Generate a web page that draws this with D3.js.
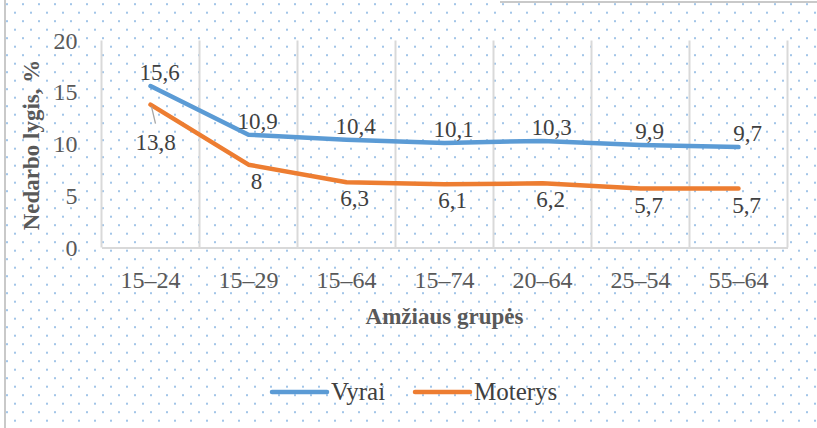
<!DOCTYPE html>
<html>
<head>
<meta charset="utf-8">
<script src="https://cdn.jsdelivr.net/npm/d3@7"></script>
<style>
  body { margin: 0; background: #fff; }
  svg { display: block; font-family: "Liberation Serif", "Times New Roman", serif; }
</style>
</head>
<body>
<svg width="817" height="428"></svg>
<script>
// data
var groups = ["15–24", "15–29", "15–64", "15–74", "20–64", "25–54", "55–64"];
var vyrai = [15.6, 10.9, 10.4, 10.1, 10.3, 9.9, 9.7];
var moterys = [13.8, 8, 6.3, 6.1, 6.2, 5.7, 5.7];
var yTicks = [0, 5, 10, 15, 20];
var seriesNames = ["Vyrai", "Moterys"];
var colors = ["#5b9bd5", "#ed7d31"];

var serif = "'Liberation Serif', 'Times New Roman', serif";
var svg = d3.select("svg");

// dotted background
var defs = svg.append("defs");
var pat = defs.append("pattern")
    .attr("id", "dots")
    .attr("patternUnits", "userSpaceOnUse")
    .attr("width", 16)
    .attr("height", 17);
pat.append("rect").attr("x", 6).attr("y", 3.2).attr("width", 2).attr("height", 2).attr("fill", "#a2c5e8");
pat.append("rect").attr("x", 14).attr("y", 11.7).attr("width", 2).attr("height", 2).attr("fill", "#a2c5e8");

svg.append("rect")
    .attr("width", 817).attr("height", 428)
    .attr("fill", "url(#dots)");

// outer border bits
svg.append("line")
    .attr("x1", 5).attr("x2", 5).attr("y1", 0).attr("y2", 428)
    .attr("stroke", "#c9c9c9").attr("stroke-width", 2);
svg.append("line")
    .attr("x1", 500).attr("x2", 817).attr("y1", 2).attr("y2", 2)
    .attr("stroke", "#c9c9c9").attr("stroke-width", 2);

var x = d3.scaleBand().domain(groups).range([101.5, 787.5]).padding(0);
var y = d3.scaleLinear().domain([0, 20]).range([247.5, 40.5]);
var cx = function(d, i){ return x(groups[i]) + x.bandwidth() / 2; };

// vertical gridlines at category edges
var edges = groups.map(function(g){ return x(g); }).concat([x.range()[1]]);
svg.selectAll("line.grid")
    .data(edges)
    .enter().append("line")
    .attr("class", "grid")
    .attr("x1", function(d){ return d; })
    .attr("x2", function(d){ return d; })
    .attr("y1", y(20))
    .attr("y2", y(0))
    .attr("stroke", "#d9d9d9")
    .attr("stroke-width", 2);

// x axis
var xAxis = svg.append("g")
    .attr("transform", "translate(0," + y(0) + ")")
    .call(d3.axisBottom(x).tickSize(0).tickPadding(23));
xAxis.attr("font-family", null).attr("font-size", null);
xAxis.select(".domain").attr("stroke", "#d9d9d9").attr("stroke-width", 2);
xAxis.selectAll("text")
    .attr("fill", "#595959")
    .style("font-size", "24px")
    .style("font-family", serif);

// y axis
var yAxis = svg.append("g")
    .attr("transform", "translate(" + x.range()[0] + ",0)")
    .call(d3.axisLeft(y).tickValues(yTicks).tickSize(0).tickPadding(24));
yAxis.attr("font-family", null).attr("font-size", null);
yAxis.select(".domain").remove();
yAxis.selectAll("text")
    .attr("fill", "#595959")
    .style("font-size", "24px")
    .style("font-family", serif);

// axis titles
svg.append("text")
    .attr("transform", "translate(39,145) rotate(-90)")
    .attr("text-anchor", "middle")
    .attr("fill", "#595959")
    .attr("font-weight", "bold")
    .style("font-size", "23px")
    .style("font-family", serif)
    .text("Nedarbo lygis, %");

svg.append("text")
    .attr("x", 444.5)
    .attr("y", 324)
    .attr("text-anchor", "middle")
    .attr("fill", "#595959")
    .attr("font-weight", "bold")
    .style("font-size", "23px")
    .style("font-family", serif)
    .text("Amžiaus grupės");

// lines
var line = d3.line()
    .x(cx)
    .y(function(d){ return y(d); });

[vyrai, moterys].forEach(function(vals, s){
    svg.append("path")
        .datum(vals)
        .attr("d", line)
        .attr("fill", "none")
        .attr("stroke", colors[s])
        .attr("stroke-width", 4.5)
        .attr("stroke-linejoin", "round")
        .attr("stroke-linecap", "round");
});

// labels: Vyrai above, Moterys below
svg.selectAll("text.lv")
    .data(vyrai)
    .enter().append("text")
    .attr("class", "lv")
    .attr("x", function(d, i){ return cx(d, i) + 9; })
    .attr("y", function(d){ return y(d) - 6; })
    .attr("text-anchor", "middle")
    .attr("fill", "#404040")
    .style("font-size", "23px")
    .style("font-family", serif)
    .text(function(d){ return String(d).replace(".", ","); });

// first Moterys label sits lower, with a leader line
svg.append("line")
    .attr("x1", cx(moterys[0], 0) + 1)
    .attr("y1", y(moterys[0]) + 2)
    .attr("x2", cx(moterys[0], 0) + 5)
    .attr("y2", y(moterys[0]) + 19)
    .attr("stroke", "#a6a6a6")
    .attr("stroke-width", 1.3);

svg.selectAll("text.lm")
    .data(moterys)
    .enter().append("text")
    .attr("class", "lm")
    .attr("x", function(d, i){ return cx(d, i) + (i === 0 ? 5 : 8); })
    .attr("y", function(d, i){ return y(d) + (i === 0 ? 45 : 24); })
    .attr("text-anchor", "middle")
    .attr("fill", "#404040")
    .style("font-size", "23px")
    .style("font-family", serif)
    .text(function(d){ return String(d).replace(".", ","); });

// legend
var legX = [272, 415];
seriesNames.forEach(function(name, s){
    var g = svg.append("g").attr("transform", "translate(" + legX[s] + ",392)");
    g.append("line")
        .attr("x1", 0).attr("x2", 55)
        .attr("y1", 0).attr("y2", 0)
        .attr("stroke", colors[s])
        .attr("stroke-width", 4.5)
        .attr("stroke-linecap", "round");
    g.append("text")
        .attr("x", 59)
        .attr("y", 8)
        .attr("fill", "#404040")
        .style("font-size", "25px")
        .style("font-family", serif)
        .text(name);
});
</script>
</body>
</html>
